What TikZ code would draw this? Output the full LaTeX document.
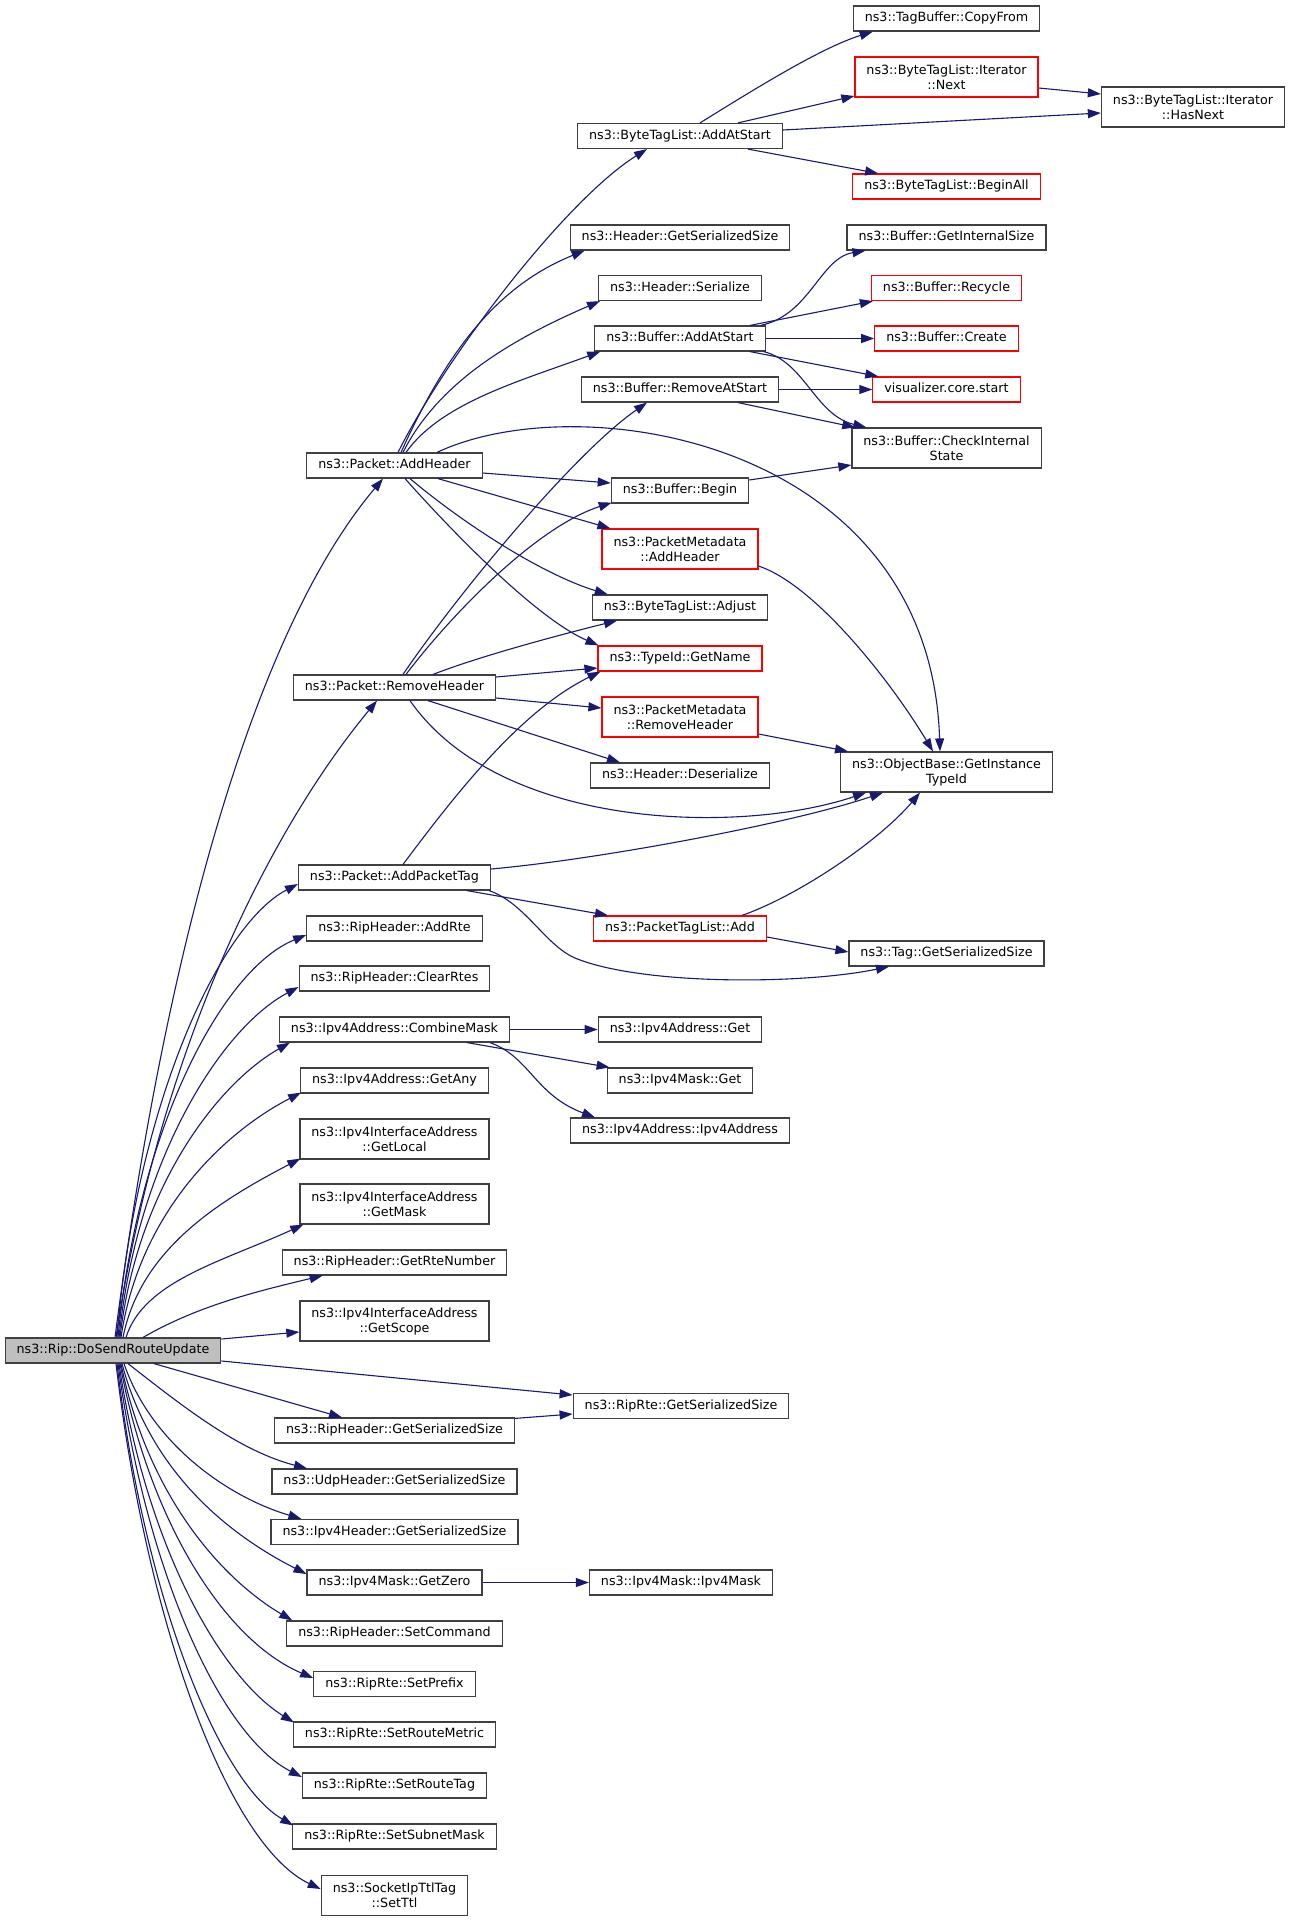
\documentclass[tikz,border=0pt]{standalone}
\usepackage{fontspec}
\setmainfont{DejaVu Sans}
\usetikzlibrary{arrows.meta}
\definecolor{edgeblue}{RGB}{25,25,112}
\definecolor{nodegray}{RGB}{64,64,64}
\definecolor{nodered}{RGB}{255,0,0}
\definecolor{mainfill}{RGB}{191,191,191}
\newcommand\dxf{\fontsize{12.7pt}{15pt}\selectfont}
\begin{document}
\begin{tikzpicture}[x=1pt,y=-1pt,
 box/.style={draw=nodegray, line width=1.2pt, fill=white, rectangle, inner xsep=11.5pt, inner ysep=0pt, minimum height=25pt, font=\dxf, text height=9.3pt, text depth=2.9pt},
 box2/.style={draw=nodegray, line width=1.2pt, fill=white, rectangle, inner xsep=11.5pt, inner ysep=0pt, minimum height=40pt, font=\dxf, align=center},
 redline/.style={draw=nodered},
 call/.style={draw=edgeblue, line width=1.1pt, -{Triangle[length=13pt,width=9pt]}},
]
\fill[white] (0,0) rectangle (1291,1920);
\useasboundingbox (0,0) rectangle (1291,1920);

% column 1
\node[box, fill=mainfill] (D) at (113,1350.5) {ns3::Rip::DoSendRouteUpdate};

% column 2
\node[box] (pAH) at (394.5,465.5) {ns3::Packet::AddHeader};
\node[box] (pRH) at (394.5,687.5) {ns3::Packet::RemoveHeader};
\node[box] (pAPT) at (394.5,877.5) {ns3::Packet::AddPacketTag};
\node[box] (rAR) at (394.5,928.5) {ns3::RipHeader::AddRte};
\node[box] (rCR) at (394.5,978.5) {ns3::RipHeader::ClearRtes};
\node[box] (aCM) at (394.5,1029.5) {ns3::Ipv4Address::CombineMask};
\node[box] (aGA) at (394.5,1080.5) {ns3::Ipv4Address::GetAny};
\node[box2] (iGL) at (394.5,1139) {ns3::Ipv4InterfaceAddress\\::GetLocal};
\node[box2] (iGM) at (394.5,1204) {ns3::Ipv4InterfaceAddress\\::GetMask};
\node[box] (rGRN) at (394.5,1262.5) {ns3::RipHeader::GetRteNumber};
\node[box2] (iGS) at (394.5,1321) {ns3::Ipv4InterfaceAddress\\::GetScope};
\node[box] (rGSS) at (394.5,1430.5) {ns3::RipHeader::GetSerializedSize};
\node[box] (uGSS) at (394.5,1481.5) {ns3::UdpHeader::GetSerializedSize};
\node[box] (hGSS4) at (394.5,1532) {ns3::Ipv4Header::GetSerializedSize};
\node[box] (mGZ) at (394.5,1582.5) {ns3::Ipv4Mask::GetZero};
\node[box] (rSC) at (394.5,1633.5) {ns3::RipHeader::SetCommand};
\node[box] (eSP) at (394.5,1684) {ns3::RipRte::SetPrefix};
\node[box] (eSRM) at (394.5,1734.5) {ns3::RipRte::SetRouteMetric};
\node[box] (eSRT) at (394.5,1785.5) {ns3::RipRte::SetRouteTag};
\node[box] (eSSM) at (394.5,1836.5) {ns3::RipRte::SetSubnetMask};
\node[box2] (sST) at (394.5,1895.5) {ns3::SocketIpTtlTag\\::SetTtl};

% column 3
\node[box] (bAAS) at (680,136) {ns3::ByteTagList::AddAtStart};
\node[box] (hGSS) at (680,237.5) {ns3::Header::GetSerializedSize};
\node[box] (hSer) at (680,288) {ns3::Header::Serialize};
\node[box] (fAAS) at (680,338.5) {ns3::Buffer::AddAtStart};
\node[box] (fRAS) at (680,389.5) {ns3::Buffer::RemoveAtStart};
\node[box] (fBeg) at (680,490.5) {ns3::Buffer::Begin};
\node[box2, redline] (mAH) at (680,549) {ns3::PacketMetadata\\::AddHeader};
\node[box] (bAdj) at (680,607.5) {ns3::ByteTagList::Adjust};
\node[box, redline] (tGN) at (680,658.5) {ns3::TypeId::GetName};
\node[box2, redline] (mRH) at (680,717) {ns3::PacketMetadata\\::RemoveHeader};
\node[box] (hDes) at (680,775.5) {ns3::Header::Deserialize};
\node[box, redline] (ptAdd) at (680,928.5) {ns3::PacketTagList::Add};
\node[box] (aGet) at (680,1029.5) {ns3::Ipv4Address::Get};
\node[box] (mGet) at (680,1080.5) {ns3::Ipv4Mask::Get};
\node[box] (aIpv4) at (680,1130.5) {ns3::Ipv4Address::Ipv4Address};
\node[box] (eGSS) at (681,1406) {ns3::RipRte::GetSerializedSize};
\node[box] (mIpv4) at (681,1582.5) {ns3::Ipv4Mask::Ipv4Mask};

% column 4
\node[box] (tbCF) at (946.5,18.5) {ns3::TagBuffer::CopyFrom};
\node[box2, redline] (itN) at (946.5,77) {ns3::ByteTagList::Iterator\\::Next};
\node[box, redline] (bBA) at (946.5,186.5) {ns3::ByteTagList::BeginAll};
\node[box] (fGIS) at (946.5,237.5) {ns3::Buffer::GetInternalSize};
\node[box, redline] (fRec) at (946.5,288) {ns3::Buffer::Recycle};
\node[box, redline] (fCre) at (946.5,338.5) {ns3::Buffer::Create};
\node[box, redline] (vis) at (946.5,389.5) {visualizer.core.start};
\node[box2] (fCIS) at (946.5,448) {ns3::Buffer::CheckInternal\\State};
\node[box2] (oGIT) at (946.5,772) {ns3::ObjectBase::GetInstance\\TypeId};
\node[box] (tGSS) at (946.5,953.5) {ns3::Tag::GetSerializedSize};

% column 5
\node[box2] (itHN) at (1193,107) {ns3::ByteTagList::Iterator\\::HasNext};

% ---- edges from DoSendRouteUpdate (upwards)
\draw[call] ([shift={(2,0)}]D.north) .. controls (167,938) and (257,628) .. ([shift={(-11.5,0)}]pAH.south);
\draw[call] ([shift={(3,0)}]D.north) .. controls (161,1038) and (277,821) .. ([shift={(-17.5,0)}]pRH.south);
\draw[call] ([shift={(4,0)}]D.north) .. controls (135,1111) and (217.5,926) .. ([shift={(0,6.5)}]pAPT.west);
\draw[call] ([shift={(5,0)}]D.north) .. controls (136.9,1136.5) and (219.4,970.4) .. ([shift={(0,6.5)}]rAR.west);
\draw[call] ([shift={(6,0)}]D.north) .. controls (137,1162.5) and (219.5,1029.2) .. ([shift={(0,8.5)}]rCR.west);
\draw[call] ([shift={(7,0)}]D.north) .. controls (136.9,1190) and (215.8,1084.75) .. ([shift={(11,0)}]aCM.south west);
\draw[call] ([shift={(8,0)}]D.north) .. controls (138.9,1215) and (221,1134) .. ([shift={(1,-1)}]aGA.south west);
\draw[call] ([shift={(10,0)}]D.north) .. controls (140.7,1248) and (221.9,1199.5) .. ([shift={(1,-1)}]iGL.south west);
\draw[call] ([shift={(13,0)}]D.north) .. controls (143.7,1281) and (222.8,1261.4) .. ([shift={(4,0)}]iGM.south west);
\draw[call] ([shift={(30,0)}]D.north) .. controls (196.7,1306.5) and (252.5,1292.3) .. ([shift={(41,0)}]rGRN.south west);
\draw[call] ([shift={(0,-11.5)}]D.east) -- ([shift={(0,11)}]iGS.west);
% ---- edges from DoSendRouteUpdate (downwards)
\draw[call] ([shift={(0,10.5)}]D.east) -- ([shift={(0,-11)}]eGSS.west);
\draw[call] ([shift={(41,0)}]D.south) -- ([shift={(-52.5,0)}]rGSS.north);
\draw[call] ([shift={(15,0)}]D.south) .. controls (181.7,1405.4) and (237.8,1450.5) .. ([shift={(-87.5,0)}]uGSS.north);
\draw[call] ([shift={(11,0)}]D.south) .. controls (150.4,1441) and (224.3,1495.8) .. ([shift={(31,0)}]hGSS4.north west);
\draw[call] ([shift={(9,0)}]D.south) .. controls (149.6,1468.5) and (224,1532.2) .. ([shift={(0,-8.5)}]mGZ.west);
\draw[call] ([shift={(8,0)}]D.south) .. controls (146.7,1492) and (218.7,1577) .. ([shift={(6,0)}]rSC.north west);
\draw[call] ([shift={(7,0)}]D.south) .. controls (149,1520.5) and (224.2,1640.3) .. ([shift={(0,-6)}]eSP.west);
\draw[call] ([shift={(6,0)}]D.south) .. controls (145.25,1543) and (219.8,1676.6) .. ([shift={(1,1)}]eSRM.north west);
\draw[call] ([shift={(5,0)}]D.south) .. controls (145.6,1570) and (220,1735.2) .. ([shift={(0,-8.5)}]eSRT.west);
\draw[call] ([shift={(4,0)}]D.south) .. controls (143.7,1594.5) and (218,1781.5) .. ([shift={(1,2)}]eSSM.north west);
\draw[call] ([shift={(3,0)}]D.south) .. controls (146.9,1626) and (228.7,1845.5) .. ([shift={(0,-6.5)}]sST.west);

% ---- Packet::AddHeader
\draw[call] ([shift={(3.5,0)}]pAH.north) .. controls (448,353) and (567,199) .. ([shift={(-33,0)}]bAAS.south);
\draw[call] ([shift={(6.5,0)}]pAH.north) .. controls (446,353) and (496.5,286) .. ([shift={(15,0)}]hGSS.south west);
\draw[call] ([shift={(8.5,0)}]pAH.north) .. controls (438,383) and (510,340) .. ([shift={(2,0)}]hSer.south west);
\draw[call] ([shift={(11.5,0)}]pAH.north) .. controls (441,403) and (520,381) .. ([shift={(6,0)}]fAAS.south west);
\draw[call] ([shift={(42.5,0)}]pAH.north) .. controls (580,385) and (930,440) .. ([shift={(-6.5,0)}]oGIT.north);
\draw[call] ([shift={(0,7.5)}]pAH.east) -- ([shift={(0,-7.5)}]fBeg.west);
\draw[call] ([shift={(43.5,0)}]pAH.south) -- ([shift={(9,0)}]mAH.north west);
\draw[call] ([shift={(15.5,0)}]pAH.south) .. controls (470,529) and (547,576) .. ([shift={(16,0)}]bAdj.north west);
\draw[call] ([shift={(10.5,0)}]pAH.south) .. controls (458,538) and (538,619) .. ([shift={(1,0)}]tGN.north west);

% ---- Packet::RemoveHeader
\draw[call] ([shift={(8.5,0)}]pRH.north) .. controls (457,595) and (574,453) .. ([shift={(-33,0)}]fRAS.south);
\draw[call] ([shift={(11.5,0)}]pRH.north) .. controls (451,615) and (536,527) .. ([shift={(1,-1)}]fBeg.south west);
\draw[call] ([shift={(38.5,0)}]pRH.north) .. controls (483,655) and (567,633) .. ([shift={(-63,0)}]bAdj.south);
\draw[call] ([shift={(0,-10.5)}]pRH.east) -- ([shift={(0,9.5)}]tGN.west);
\draw[call] ([shift={(0,10.5)}]pRH.east) -- ([shift={(0,-9)}]mRH.west);
\draw[call] ([shift={(33.5,0)}]pRH.south) -- ([shift={(-60,0)}]hDes.north);
\draw[call] ([shift={(15.5,0)}]pRH.south) .. controls (500,830) and (740,835) .. ([shift={(-80.5,0)}]oGIT.south);

% ---- Packet::AddPacketTag
\draw[call] ([shift={(8.5,0)}]pAPT.north) .. controls (455,795) and (520,711) .. ([shift={(3,0)}]tGN.south west);
\draw[call] ([shift={(0,-8.5)}]pAPT.east) .. controls (602,859) and (793,823) .. ([shift={(-63.5,0)}]oGIT.south);
\draw[call] ([shift={(72.5,0)}]pAPT.south) -- ([shift={(15,0)}]ptAdd.north west);
\coordinate (tagbend) at (575,958);
\draw[call] ([shift={(-2,0)}]pAPT.south east) .. controls (525,903) and (545,945) .. (tagbend) .. controls (640,985) and (800,985) .. ([shift={(-57.5,0)}]tGSS.south);

% ---- PacketTagList::Add
\draw[call] ([shift={(0,8.5)}]ptAdd.east) -- ([shift={(0,-1.5)}]tGSS.west);
\draw[call] ([shift={(62,0)}]ptAdd.north) .. controls (800,895) and (880,840) .. ([shift={(-26.5,0)}]oGIT.south);

% ---- Ipv4Address::CombineMask
\draw[call] (aCM.east) -- (aGet.west);
\draw[call] ([shift={(72.5,0)}]aCM.south) -- ([shift={(3,0)}]mGet.north west);
\draw[call] ([shift={(95.5,0)}]aCM.south) .. controls (530,1057) and (535,1095) .. ([shift={(25,0)}]aIpv4.north west);

% ---- ByteTagList::AddAtStart
\draw[call] ([shift={(20,0)}]bAAS.north) .. controls (750,92) and (820,48) .. ([shift={(20,0)}]tbCF.south west);
\draw[call] ([shift={(58,0)}]bAAS.north) -- ([shift={(0,19)}]itN.west);
\draw[call] ([shift={(0,-6)}]bAAS.east) -- ([shift={(0,6)}]itHN.west);
\draw[call] ([shift={(68,0)}]bAAS.south) -- ([shift={(26,0)}]bBA.north west);
\draw[call] ([shift={(0,11)}]itN.east) -- ([shift={(0,-13)}]itHN.west);

% ---- Buffer::AddAtStart
\draw[call] ([shift={(-5,0)}]fAAS.north east) .. controls (810,315) and (820,258) .. ([shift={(19,0)}]fGIS.south west);
\draw[call] ([shift={(70,0)}]fAAS.north) -- ([shift={(2,0)}]fRec.south west);
\draw[call] (fAAS.east) -- (fCre.west);
\draw[call] ([shift={(70,0)}]fAAS.south) -- ([shift={(6,0)}]vis.north west);
\draw[call] ([shift={(-2,0)}]fAAS.south east) .. controls (805,362) and (815,415) .. ([shift={(15,0)}]fCIS.north west);

% ---- Buffer::RemoveAtStart, Begin
\draw[call] (fRAS.east) -- (vis.west);
\draw[call] ([shift={(58,0)}]fRAS.south) -- ([shift={(4,0)}]fCIS.north west);
\draw[call] ([shift={(0,-10.5)}]fBeg.east) -- ([shift={(0,17)}]fCIS.west);

% ---- PacketMetadata
\draw[call] ([shift={(0,17)}]mAH.east) .. controls (815,585) and (890,680) .. ([shift={(-13.5,0)}]oGIT.north);
\draw[call] ([shift={(0,17)}]mRH.east) -- ([shift={(8,0)}]oGIT.north west);

% ---- others
\draw[call] ([shift={(0,1)}]rGSS.north east) -- ([shift={(0,8)}]eGSS.west);
\draw[call] (mGZ.east) -- (mIpv4.west);
\end{tikzpicture}
\end{document}
